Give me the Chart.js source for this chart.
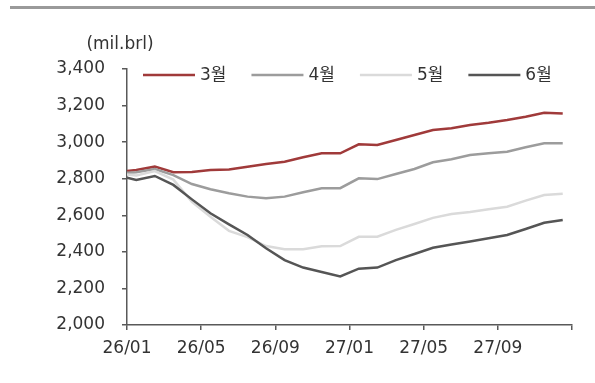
<!DOCTYPE html>
<html lang="ko">
<head>
  <meta charset="UTF-8" />
  <title>Monthly outlook (mil.brl)</title>
  <script src="https://cdn.jsdelivr.net/npm/chart.js"></script>
  <style>
    html, body {
      margin: 0;
      padding: 0;
      background: #fff;
    }
    #wrap {
      position: relative;
      width: 595px;
      height: 383px;
    }
  </style>
</head>
<body>
  <div id="wrap">
    <canvas id="outlook" width="595" height="383"></canvas>
  </div>

  <script>
    // months since 26/01 for each observation
    const months = [0, 0.5, 1.5, 2.5, 3.5, 4.5, 5.5, 6.5, 7.5, 8.5, 9.5, 10.5, 11.5,
                    12.5, 13.5, 14.5, 15.5, 16.5, 17.5, 18.5, 19.5, 20.5, 21.5, 22.5, 23.5];

    const xTickLabels = ['26/01', '26/05', '26/09', '27/01', '27/05', '27/09', ''];

    const seriesNames = ['3월', '4월', '5월', '6월'];

    const mar = [2842, 2848, 2866, 2835, 2837, 2848, 2850, 2866, 2880, 2893, 2917, 2939, 2939,
                 2988, 2984, 3012, 3039, 3066, 3076, 3094, 3106, 3121, 3139, 3161, 3156];
    const apr = [2833, 2836, 2853, 2820, 2771, 2742, 2720, 2702, 2693, 2702, 2726, 2748, 2748,
                 2802, 2798, 2826, 2853, 2890, 2906, 2930, 2939, 2948, 2972, 2994, 2994];
    const may = [2823, 2818, 2842, 2795, 2674, 2592, 2515, 2481, 2432, 2414, 2414, 2430, 2432,
                 2482, 2483, 2520, 2552, 2586, 2607, 2618, 2633, 2647, 2680, 2711, 2718];
    const jun = [2805, 2793, 2815, 2766, 2687, 2611, 2550, 2492, 2420, 2355, 2314, 2290, 2266,
                 2308, 2314, 2355, 2388, 2422, 2440, 2457, 2474, 2492, 2525, 2559, 2574];

    const colors = ['#a03a3a', '#9c9c9c', '#dadada', '#555555'];

    const FONT = '"DejaVu Sans", "Noto Sans CJK KR", sans-serif';
    const AXIS = '#595959';

    function toPoints(values) {
      return values.map((v, i) => ({ x: months[i], y: v }));
    }

    // header rule, unit caption and the line legend
    const decorations = {
      id: 'decorations',
      beforeDraw(chart) {
        const ctx = chart.ctx;
        ctx.save();
        ctx.fillStyle = '#9a9a9a';
        ctx.fillRect(10, 6, 585, 3);
        ctx.restore();
      },
      afterDraw(chart) {
        const ctx = chart.ctx;
        const area = chart.chartArea;
        ctx.save();
        ctx.font = '17px ' + FONT;
        ctx.fillStyle = '#333';
        ctx.textBaseline = 'middle';
        ctx.textAlign = 'center';
        ctx.fillText('(mil.brl)', area.left - 7, 45);

        ctx.textAlign = 'left';
        let x = area.left + 16;
        const y = area.top + 6;
        chart.data.datasets.forEach(ds => {
          ctx.strokeStyle = ds.borderColor;
          ctx.lineWidth = ds.borderWidth;
          ctx.beginPath();
          ctx.moveTo(x, y);
          ctx.lineTo(x + 52, y);
          ctx.stroke();
          x += 57;
          ctx.fillText(ds.label, x, y + 1);
          x += ctx.measureText(ds.label).width + 25;
        });
        ctx.restore();
      }
    };

    const ctx = document.getElementById('outlook').getContext('2d');
    new Chart(ctx, {
      type: 'line',
      data: {
        datasets: [mar, apr, may, jun].map((vals, i) => ({
          label: seriesNames[i],
          data: toPoints(vals),
          borderColor: colors[i],
          backgroundColor: colors[i],
          borderWidth: 2.5,
          pointRadius: 0,
          tension: 0,
          fill: false,
          order: 4 - i
        }))
      },
      options: {
        responsive: false,
        animation: false,
        layout: { padding: { top: 69, right: 23, left: 0, bottom: 0 } },
        plugins: {
          legend: { display: false },
          tooltip: { enabled: false }
        },
        scales: {
          x: {
            type: 'linear',
            min: 0,
            max: 24,
            afterFit(scale) { scale.height = 58; },
            afterBuildTicks(scale) {
              scale.ticks = xTickLabels.map((_, i) => ({ value: i * 4 }));
            },
            ticks: {
              autoSkip: false,
              maxRotation: 0,
              padding: 8,
              color: '#333',
              font: { family: FONT, size: 17 },
              callback: (v) => xTickLabels[v / 4]
            },
            grid: {
              display: true,
              drawOnChartArea: false,
              drawTicks: true,
              tickLength: 5,
              color: AXIS,
              lineWidth: 1.5
            },
            border: { display: true, color: AXIS, width: 1.5 }
          },
          y: {
            min: 2000,
            max: 3400,
            afterFit(scale) { scale.width = 127; },
            ticks: {
              stepSize: 200,
              padding: 17,
              color: '#333',
              font: { family: FONT, size: 17 },
              callback: (v) => v.toLocaleString('en-US')
            },
            grid: {
              display: true,
              drawOnChartArea: false,
              drawTicks: true,
              tickLength: 5,
              color: AXIS,
              lineWidth: 1.5
            },
            border: { display: true, color: AXIS, width: 1.5 }
          }
        }
      },
      plugins: [decorations]
    });
  </script>
</body>
</html>
